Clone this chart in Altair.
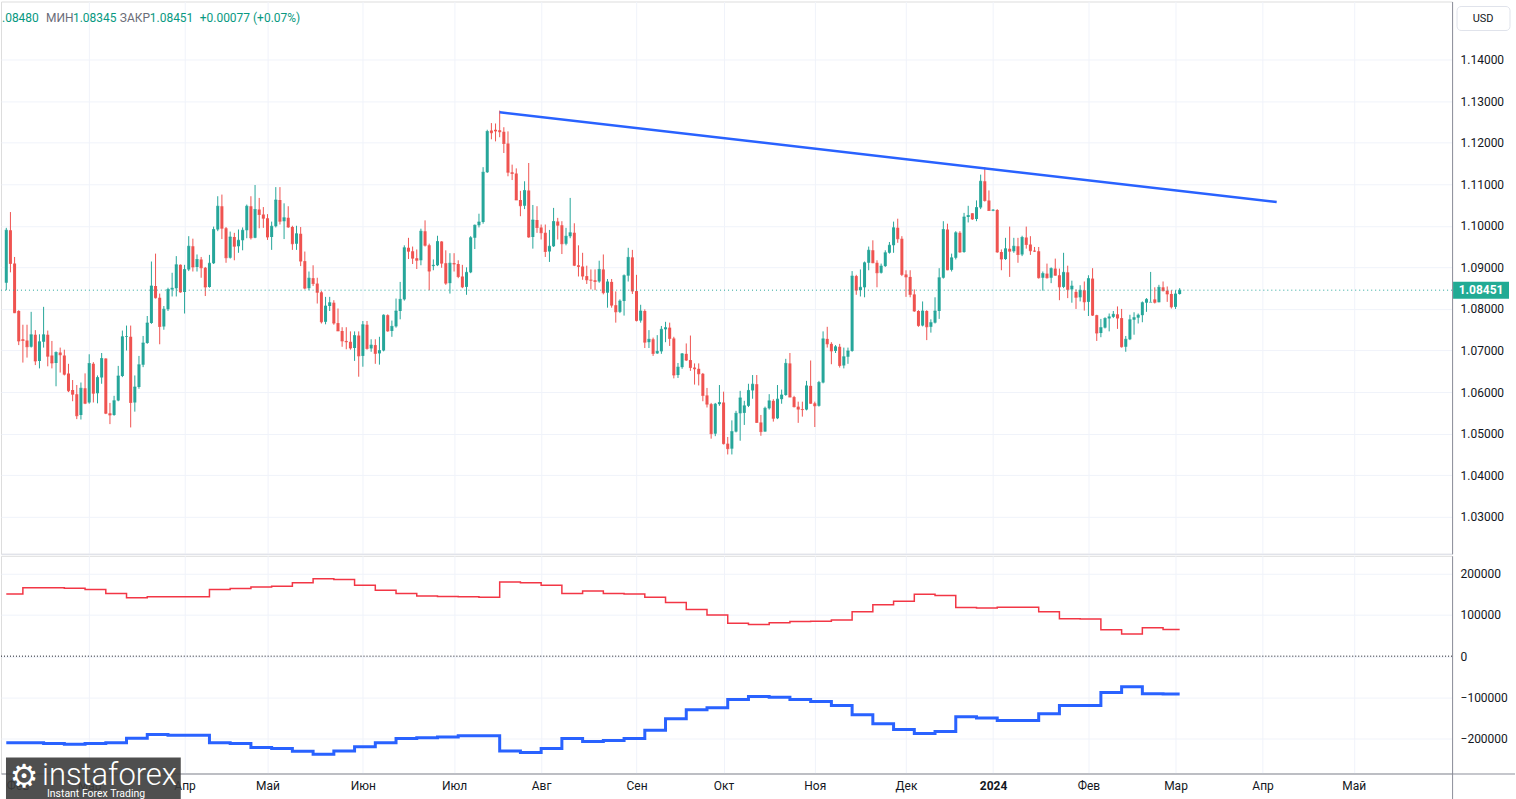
import altair as alt
import pandas as pd

# ---------------- data (EUR/USD daily) ----------------
opens = [1.0863,1.0989,1.0909,1.0795,1.0727,1.0724,1.0709,1.0738,1.0675,1.0721,
1.0738,1.0688,1.0670,1.0695,1.0688,1.0645,1.0605,1.0595,1.0545,1.0609,
1.0575,1.0668,1.0597,1.0635,1.0681,1.0549,1.0545,1.0580,1.0639,1.0733,
1.0733,1.0575,1.0612,1.0666,1.0718,1.0766,1.0855,1.0827,1.0758,1.0799,
1.0847,1.0850,1.0906,1.0841,1.0895,1.0951,1.0901,1.0919,1.0899,1.0853,
1.0910,1.0991,1.1047,1.0994,1.0923,1.0973,1.0951,1.0965,1.0989,1.1047,
1.0971,1.1039,1.1027,1.1018,1.0973,1.0999,1.1062,1.1011,1.1019,1.0997,
1.0957,1.0981,1.0915,1.0850,1.0874,1.0861,1.0840,1.0769,1.0807,1.0815,
1.0766,1.0747,1.0723,1.0721,1.0706,1.0736,1.0687,1.0762,1.0705,1.0713,
1.0693,1.0700,1.0785,1.0747,1.0758,1.0795,1.0823,1.0947,1.0939,1.0922,
1.0917,1.0987,1.0953,1.0903,1.0905,1.0962,1.0910,1.0862,1.0910,1.0908,
1.0878,1.0853,1.0888,1.0971,1.1001,1.1009,1.1129,1.1229,1.1231,1.1230,
1.1226,1.1198,1.1129,1.1126,1.1062,1.1048,1.1085,1.0973,1.1014,1.0996,
1.0983,1.0938,1.0951,1.1010,1.1001,1.0957,1.0975,1.0983,1.0905,1.0902,
1.0879,1.0870,1.0869,1.0866,1.0895,1.0839,1.0865,1.0809,1.0793,1.0819,
1.0880,1.0924,1.0843,1.0772,1.0795,1.0720,1.0727,1.0693,1.0698,1.0751,
1.0755,1.0729,1.0641,1.0660,1.0692,1.0677,1.0659,1.0656,1.0644,1.0592,
1.0571,1.0500,1.0571,1.0575,1.0476,1.0464,1.0505,1.0549,1.0550,1.0567,
1.0604,1.0619,1.0527,1.0505,1.0561,1.0579,1.0537,1.0583,1.0593,1.0669,
1.0588,1.0565,1.0559,1.0558,1.0615,1.0573,1.0567,1.0623,1.0728,1.0716,
1.0699,1.0709,1.0664,1.0685,1.0699,1.0879,1.0845,1.0852,1.0911,1.0941,
1.0911,1.0887,1.0903,1.0935,1.0953,1.0995,1.0969,1.0883,1.0877,1.0835,
1.0795,1.0760,1.0795,1.0757,1.0767,1.0795,1.0875,1.0991,1.0894,1.0923,
1.0983,1.0937,1.1021,1.1030,1.1016,1.1044,1.1107,1.1061,1.1037,1.1038,
1.0937,1.0920,1.0945,1.0939,1.0951,1.0931,1.0972,1.0955,1.0940,1.0939,
1.0875,1.0885,1.0875,1.0897,1.0881,1.0853,1.0888,1.0847,1.0841,1.0828,
1.0845,1.0817,1.0873,1.0785,1.0742,1.0755,1.0777,1.0781,1.0787,1.0778,
1.0709,1.0727,1.0774,1.0779,1.0785,1.0815,1.0816,1.0823,1.0816,1.0852,
1.0844,1.0836,1.0805,1.0836]
highs = [1.0995,1.1033,1.0925,1.0797,1.0762,1.0762,1.0793,1.0749,1.0739,1.0805,
1.0748,1.0723,1.0698,1.0707,1.0702,1.0668,1.0629,1.0617,1.0623,1.0645,
1.0691,1.0672,1.0640,1.0694,1.0681,1.0574,1.0591,1.0663,1.0748,1.0760,
1.0760,1.0640,1.0687,1.0735,1.0783,1.0914,1.0933,1.0837,1.0807,1.0851,
1.0887,1.0927,1.0907,1.0906,1.0975,1.0969,1.0931,1.0925,1.0901,1.0930,
1.0998,1.1071,1.1075,1.0997,1.0986,1.0983,1.0991,1.0996,1.1051,1.1071,
1.1098,1.1067,1.1045,1.1028,1.1010,1.1093,1.1093,1.1054,1.1047,1.1000,
1.1000,1.0997,1.0938,1.0890,1.0905,1.0875,1.0843,1.0829,1.0829,1.0821,
1.0801,1.0756,1.0756,1.0746,1.0746,1.0746,1.0771,1.0771,1.0727,1.0727,
1.0733,1.0787,1.0787,1.0772,1.0825,1.0865,1.0953,1.0971,1.0950,1.0943,
1.0993,1.1013,1.0957,1.0919,1.0976,1.0963,1.0941,1.0934,1.0934,1.0917,
1.0906,1.0900,1.0975,1.1003,1.1029,1.1141,1.1231,1.1247,1.1246,1.1277,
1.1237,1.1227,1.1147,1.1138,1.1084,1.1107,1.1151,1.1050,1.1047,1.1003,
1.1003,1.0990,1.1043,1.1019,1.1011,1.0995,1.1067,1.1006,1.0953,1.0935,
1.0904,1.0895,1.0895,1.0916,1.0931,1.0872,1.0872,1.0842,1.0823,1.0883,
1.0947,1.0942,1.0882,1.0810,1.0799,1.0749,1.0731,1.0737,1.0759,1.0769,
1.0767,1.0733,1.0670,1.0694,1.0717,1.0736,1.0669,1.0669,1.0646,1.0610,
1.0574,1.0574,1.0617,1.0601,1.0492,1.0532,1.0555,1.0603,1.0579,1.0620,
1.0641,1.0641,1.0545,1.0565,1.0595,1.0583,1.0617,1.0606,1.0680,1.0694,
1.0591,1.0577,1.0577,1.0627,1.0676,1.0577,1.0627,1.0746,1.0757,1.0720,
1.0713,1.0716,1.0707,1.0707,1.0891,1.0882,1.0895,1.0914,1.0950,1.0965,
1.0917,1.0909,1.0941,1.0961,1.1010,1.1017,1.0975,1.0893,1.0893,1.0847,
1.0797,1.0818,1.0797,1.0775,1.0828,1.0898,1.1011,1.1005,1.0933,1.0987,
1.0987,1.1031,1.1048,1.1030,1.1061,1.1123,1.1141,1.1085,1.1040,1.1040,
1.0943,1.0971,1.0998,1.0971,1.0971,1.0976,1.0998,1.0975,1.0949,1.0949,
1.0890,1.0909,1.0900,1.0921,1.0897,1.0935,1.0904,1.0868,1.0847,1.0857,
1.0866,1.0881,1.0898,1.0786,1.0776,1.0780,1.0789,1.0795,1.0806,1.0800,
1.0735,1.0786,1.0792,1.0789,1.0818,1.0826,1.0889,1.0852,1.0858,1.0866,
1.0854,1.0845,1.0845,1.0850]
lows = [1.0845,1.0888,1.0790,1.0713,1.0671,1.0683,1.0707,1.0665,1.0657,1.0707,
1.0662,1.0657,1.0614,1.0647,1.0640,1.0600,1.0578,1.0535,1.0534,1.0571,
1.0572,1.0575,1.0573,1.0620,1.0547,1.0523,1.0543,1.0578,1.0636,1.0700,
1.0515,1.0553,1.0608,1.0660,1.0716,1.0764,1.0825,1.0715,1.0750,1.0795,
1.0830,1.0830,1.0839,1.0789,1.0891,1.0890,1.0890,1.0875,1.0831,1.0851,
1.0908,1.0987,1.0968,1.0911,1.0921,1.0917,1.0935,1.0941,1.0970,1.0967,
1.0970,1.0994,1.0995,1.0966,1.0942,1.0996,1.1003,1.0968,1.0995,1.0942,
1.0942,1.0903,1.0847,1.0845,1.0855,1.0813,1.0765,1.0763,1.0795,1.0762,
1.0747,1.0709,1.0703,1.0702,1.0675,1.0637,1.0661,1.0702,1.0697,1.0668,
1.0666,1.0698,1.0745,1.0733,1.0755,1.0775,1.0820,1.0920,1.0908,1.0896,
1.0905,1.0950,1.0845,1.0893,1.0903,1.0899,1.0858,1.0837,1.0890,1.0874,
1.0850,1.0834,1.0886,1.0944,1.0996,1.1005,1.1127,1.1208,1.1203,1.1213,
1.1175,1.1119,1.1110,1.1062,1.1023,1.1040,1.0971,1.0945,1.0983,1.0967,
1.0925,1.0913,1.0949,1.0967,1.0932,1.0953,1.0970,1.0903,1.0878,1.0870,
1.0860,1.0847,1.0845,1.0863,1.0835,1.0803,1.0803,1.0767,1.0790,1.0784,
1.0866,1.0836,1.0770,1.0767,1.0706,1.0706,1.0687,1.0692,1.0692,1.0720,
1.0711,1.0633,1.0634,1.0656,1.0675,1.0651,1.0618,1.0616,1.0578,1.0563,
1.0488,1.0494,1.0567,1.0474,1.0450,1.0450,1.0503,1.0483,1.0521,1.0564,
1.0584,1.0526,1.0495,1.0505,1.0558,1.0529,1.0535,1.0572,1.0591,1.0588,
1.0563,1.0526,1.0541,1.0556,1.0572,1.0516,1.0565,1.0621,1.0707,1.0667,
1.0694,1.0659,1.0657,1.0668,1.0697,1.0834,1.0830,1.0828,1.0893,1.0910,
1.0852,1.0885,1.0901,1.0933,1.0935,1.0959,1.0879,1.0829,1.0828,1.0793,
1.0757,1.0758,1.0725,1.0743,1.0765,1.0776,1.0873,1.0893,1.0890,1.0919,
1.0935,1.0935,1.1008,1.1014,1.1011,1.1040,1.1058,1.1036,1.1035,1.0935,
1.0893,1.0918,1.0877,1.0935,1.0911,1.0927,1.0945,1.0930,1.0937,1.0873,
1.0844,1.0873,1.0862,1.0880,1.0821,1.0850,1.0826,1.0815,1.0800,1.0818,
1.0796,1.0783,1.0783,1.0723,1.0732,1.0753,1.0746,1.0778,1.0752,1.0707,
1.0697,1.0725,1.0738,1.0765,1.0768,1.0793,1.0817,1.0813,1.0816,1.0842,
1.0817,1.0801,1.0800,1.08345]
closes = [1.0989,1.0909,1.0791,1.0723,1.0724,1.0709,1.0738,1.0675,1.0721,1.0738,
1.0686,1.0670,1.0695,1.0690,1.0643,1.0603,1.0595,1.0543,1.0609,1.0573,
1.0669,1.0597,1.0635,1.0681,1.0549,1.0545,1.0579,1.0639,1.0733,1.0734,
1.0575,1.0612,1.0666,1.0718,1.0766,1.0855,1.0827,1.0758,1.0799,1.0847,
1.0850,1.0906,1.0841,1.0895,1.0951,1.0901,1.0919,1.0899,1.0853,1.0910,
1.0991,1.1047,1.0994,1.0923,1.0973,1.0951,1.0965,1.0989,1.1047,1.0971,
1.1039,1.1027,1.1018,1.0973,1.0999,1.1062,1.1011,1.1019,1.0997,1.0957,
1.0981,1.0915,1.0850,1.0874,1.0861,1.0840,1.0769,1.0807,1.0815,1.0766,
1.0747,1.0723,1.0721,1.0706,1.0736,1.0687,1.0762,1.0705,1.0713,1.0693,
1.0700,1.0785,1.0747,1.0758,1.0795,1.0823,1.0947,1.0939,1.0922,1.0917,
1.0987,1.0953,1.0891,1.0905,1.0962,1.0910,1.0862,1.0910,1.0908,1.0878,
1.0853,1.0888,1.0971,1.1001,1.1009,1.1129,1.1227,1.1224,1.1228,1.1226,
1.1198,1.1129,1.1126,1.1062,1.1048,1.1085,1.0973,1.1014,1.0996,1.0983,
1.0938,1.0951,1.1010,1.1001,1.0957,1.0975,1.0983,1.0905,1.0902,1.0879,
1.0870,1.0869,1.0866,1.0895,1.0839,1.0865,1.0809,1.0793,1.0819,1.0880,
1.0924,1.0843,1.0772,1.0795,1.0720,1.0727,1.0693,1.0698,1.0751,1.0755,
1.0729,1.0641,1.0660,1.0692,1.0677,1.0659,1.0656,1.0644,1.0592,1.0571,
1.0500,1.0571,1.0575,1.0476,1.0464,1.0505,1.0549,1.0586,1.0567,1.0604,
1.0619,1.0527,1.0505,1.0561,1.0579,1.0537,1.0583,1.0593,1.0669,1.0588,
1.0565,1.0559,1.0558,1.0615,1.0573,1.0567,1.0623,1.0728,1.0716,1.0699,
1.0709,1.0664,1.0685,1.0699,1.0879,1.0845,1.0852,1.0911,1.0941,1.0911,
1.0887,1.0903,1.0935,1.0953,1.0995,1.0969,1.0883,1.0877,1.0835,1.0795,
1.0760,1.0795,1.0757,1.0767,1.0795,1.0875,1.0991,1.0894,1.0923,1.0983,
1.0937,1.1021,1.1025,1.1016,1.1044,1.1107,1.1061,1.1037,1.1038,1.0937,
1.0920,1.0945,1.0939,1.0951,1.0931,1.0972,1.0955,1.0940,1.0939,1.0875,
1.0885,1.0875,1.0897,1.0881,1.0853,1.0888,1.0847,1.0855,1.0828,1.0845,
1.0817,1.0873,1.0785,1.0742,1.0755,1.0777,1.0781,1.0787,1.0778,1.0709,
1.0727,1.0774,1.0779,1.0785,1.0815,1.0823,1.0816,1.0816,1.0852,1.0844,
1.0836,1.0805,1.0836,1.08451]

month_idx = [0, 20, 43, 63, 86, 108, 129, 152, 173, 195, 217, 238, 261, 282, 303, 325]
month_lbl = ["Фев", "Мар", "Апр", "Май", "Июн", "Июл", "Авг", "Сен", "Окт",
             "Ноя", "Дек", "2024", "Фев", "Мар", "Апр", "Май"]
price_ticks = [1.03, 1.04, 1.05, 1.06, 1.07, 1.08, 1.09, 1.10, 1.11, 1.12, 1.13, 1.14]
cot_ticks = [-200000, -100000, 0, 100000, 200000]

# weekly COT net positions (one value per report week)
red_net = [151000,166000,166000,165000,162000,152000,142000,144000,144000,144000,
162000,164000,168000,170000,178000,188000,186000,172000,160000,152000,
146000,145000,144000,143000,180000,178000,172000,152000,158000,152000,
151000,143000,130000,113000,100000,80000,77000,81000,84000,85000,
88000,108000,125000,133000,150000,147000,118000,117000,119000,119000,
108000,91000,90000,64000,54000,69000,65000]
blue_net = [-210000,-210000,-212000,-214000,-212000,-210000,-199000,-190000,-192000,-192000,
-210000,-212000,-222000,-224000,-231000,-238000,-230000,-220000,-210000,-200000,
-198000,-196000,-193000,-193000,-230000,-234000,-224000,-200000,-207000,-205000,
-200000,-180000,-152000,-130000,-125000,-105000,-98000,-100000,-105000,-110000,
-120000,-142000,-164000,-178000,-188000,-183000,-147000,-150000,-156000,-156000,
-140000,-120000,-120000,-88000,-74000,-91000,-92000]

trend_i = [119, 306.4]
trend_p = [1.1273, 1.1057]
last_close = 1.08451
header_parts = [(".08480", "#089981"), ("МИН", "#6a6d78"), ("1.08345", "#089981"),
                ("ЗАКР", "#6a6d78"), ("1.08451", "#089981"), ("+0.00077 (+0.07%)", "#089981")]
header_x = [1, 45, 72, 119, 149, 199]

# ---------------- styling ----------------
UP, DN = "#26a69a", "#ef5350"
GRID = "#f0f3fa"
TXT = "#131722"
AXL = "#8c8f9a"
FONT = "Roboto"

n = len(closes)
df = pd.DataFrame({"i": list(range(n)), "o": opens, "h": highs, "l": lows, "c": closes})
df["dir"] = ["up" if c >= o else "down" for o, c in zip(opens, closes)]

xs = alt.Scale(domain=[-0.072, 347.5], nice=False, zero=False)
ys = alt.Scale(domain=[1.02111, 1.15393], nice=False, zero=False)
cs = alt.Scale(domain=["up", "down"], range=[UP, DN])

edge_grid = {"condition": {"test": "datum.value == 0", "value": 0}, "value": 1}

top_xaxis = alt.Axis(values=month_idx, labels=False, ticks=False, grid=True, gridColor=GRID,
                     gridOpacity=edge_grid, domain=True, domainColor="#e0e3eb", title=None,
                     minExtent=0, maxExtent=0)
top_yaxis = alt.Axis(orient="right", values=price_ticks, format=".5f", grid=True, gridColor=GRID,
                     ticks=False, domainColor=AXL, labelColor=TXT, labelFontSize=12,
                     labelPadding=8, labelFont=FONT, title=None, minExtent=63, maxExtent=63)

X = alt.X("i:Q", scale=xs, axis=top_xaxis)

base = alt.Chart(df)
wicks = base.mark_rule(strokeWidth=1, clip=True).encode(
    x=X, y=alt.Y("l:Q", scale=ys, axis=top_yaxis), y2="h:Q",
    color=alt.Color("dir:N", scale=cs, legend=None))
bodies = base.mark_bar(width=3, clip=True).encode(
    x=X, y=alt.Y("o:Q", scale=ys, axis=top_yaxis), y2="c:Q",
    color=alt.Color("dir:N", scale=cs, legend=None))
dojis = base.mark_tick(orient="horizontal", size=3, thickness=1, clip=True).encode(
    x=X, y=alt.Y("c:Q", scale=ys, axis=top_yaxis),
    color=alt.Color("dir:N", scale=cs, legend=None))

one = pd.DataFrame({"k": [0]})
last_rule = alt.Chart(one).mark_rule(color=UP, strokeDash=[1, 3], strokeWidth=1, clip=True).encode(
    y=alt.Y(datum=last_close, scale=ys, axis=top_yaxis))

trend_df = pd.DataFrame({"i": trend_i, "p": trend_p})
trend = alt.Chart(trend_df).mark_line(color="#2962ff", strokeWidth=2.5).encode(
    x=X, y=alt.Y("p:Q", scale=ys, axis=top_yaxis))

price_tag = alt.Chart(one).mark_tick(orient="horizontal", size=56, thickness=17, color="#22ab94",
                                     opacity=1, clip=False).encode(
    x=alt.value(1482), y=alt.Y(datum=last_close, scale=ys, axis=top_yaxis))
price_txt = alt.Chart(one).mark_text(color="white", fontWeight="bold", fontSize=12, font=FONT,
                                     align="center", baseline="middle", clip=False).encode(
    x=alt.value(1482), y=alt.Y(datum=last_close, scale=ys, axis=top_yaxis),
    text=alt.value(f"{last_close:.5f}"))

usd_box = alt.Chart(one).mark_rect(fill="white", stroke="#e0e3eb", strokeWidth=1, cornerRadius=4,
                                   clip=False).encode(
    x=alt.value(1458), x2=alt.value(1511), y=alt.value(5), y2=alt.value(29))
usd_txt = alt.Chart(one).mark_text(color=TXT, fontSize=11, font=FONT, align="center",
                                   baseline="middle", clip=False).encode(
    x=alt.value(1484), y=alt.value(17.5), text=alt.value("USD"))

hdr_df = pd.DataFrame({"t": [p[0] for p in header_parts], "col": [p[1] for p in header_parts],
                       "px": header_x})
header = alt.Chart(hdr_df).mark_text(fontSize=12, font=FONT, align="left", baseline="middle").encode(
    x=alt.X("px:Q", scale=None), y=alt.value(16), text="t:N",
    color=alt.Color("col:N", scale=None))

top = alt.layer(wicks, bodies, dojis, last_rule, trend, price_tag, price_txt,
                usd_box, usd_txt, header).properties(width=1453, height=553)

# ---------------- lower pane (COT) ----------------
seg_i = [0] + [5 * k - 1 for k in range(1, len(red_net))] + [283]
red_df = pd.DataFrame({"i": seg_i, "v": red_net + [red_net[-1]]})
blue_df = pd.DataFrame({"i": seg_i, "v": blue_net + [blue_net[-1]]})

cot_ys = alt.Scale(domain=[-284848, 243636], nice=False, zero=False)
label_expr = ("[" + ",".join(f"'{m}'" for m in month_lbl) + "][indexof(["
              + ",".join(str(v) for v in month_idx) + "], datum.value)]")
bot_xaxis = alt.Axis(values=month_idx, labelExpr=label_expr, grid=True, gridColor=GRID,
                     gridOpacity=edge_grid, ticks=False,
                     domainColor=AXL, labelColor=TXT, labelFontSize=12, labelFont=FONT,
                     labelPadding=7, labelOverlap=False, title=None,
                     labelAlign={"condition": {"test": "datum.value == 0", "value": "left"},
                                 "value": "center"},
                     labelFontWeight={"condition": {"test": "datum.value == 238", "value": "bold"},
                                      "value": "normal"},
                     minExtent=28, maxExtent=28)
bot_yaxis = alt.Axis(orient="right", values=cot_ticks, format="d", grid=True, gridColor=GRID,
                     ticks=False, domainColor=AXL, labelColor=TXT, labelFontSize=12,
                     labelPadding=8, labelFont=FONT, title=None, minExtent=63, maxExtent=63)
XB = alt.X("i:Q", scale=xs, axis=bot_xaxis)

red_line = alt.Chart(red_df).mark_line(interpolate="step-after", color="#f23645",
                                       strokeWidth=1.5, clip=True).encode(
    x=XB, y=alt.Y("v:Q", scale=cot_ys, axis=bot_yaxis))
blue_line = alt.Chart(blue_df).mark_line(interpolate="step-after", color="#2962ff",
                                         strokeWidth=3, clip=True).encode(
    x=XB, y=alt.Y("v:Q", scale=cot_ys, axis=bot_yaxis))
zero_rule = alt.Chart(one).mark_rule(color="#131722", strokeDash=[1, 2], strokeWidth=1,
                                     clip=True).encode(
    y=alt.Y(datum=0, scale=cot_ys, axis=bot_yaxis))

# frame continuation into the corner under the price scale
corner_v = alt.Chart(one).mark_rule(color=AXL, strokeWidth=1, clip=False).encode(
    x=alt.value(1453.5), y=alt.value(218), y2=alt.value(246))
corner_h = alt.Chart(one).mark_rule(color=AXL, strokeWidth=1, clip=False).encode(
    x=alt.value(1453), x2=alt.value(1516), y=alt.value(218.5))

logo_bg = alt.Chart(one).mark_rect(fill="#3c3c3c", opacity=0.9, clip=False).encode(
    x=alt.value(5), x2=alt.value(180), y=alt.value(202), y2=alt.value(246))
logo_icon = alt.Chart(one).mark_text(color="white", fontSize=32, font="DejaVu Sans",
                                     align="center", baseline="middle", clip=False).encode(
    x=alt.value(23), y=alt.value(222), text=alt.value("⚙"))
logo_big = alt.Chart(one).mark_text(color="white", fontSize=31, fontWeight=300, font=FONT,
                                    align="left", baseline="alphabetic", clip=False).encode(
    x=alt.value(41), y=alt.value(230), text=alt.value("instaforex"))
logo_small = alt.Chart(one).mark_text(color="white", fontSize=10.5, font=FONT, align="left",
                                      baseline="alphabetic", clip=False).encode(
    x=alt.value(46), y=alt.value(242), text=alt.value("Instant Forex Trading"))

bottom = alt.layer(zero_rule, red_line, blue_line, corner_v, corner_h, logo_bg, logo_icon,
                   logo_big, logo_small).properties(width=1453, height=218)

chart = alt.vconcat(top, bottom, spacing=0).resolve_scale(x="shared").properties(
    padding=0, background="white"
).configure_view(stroke=None).configure(font=FONT)

chart.save("out.html", embed_options={"renderer": "svg", "actions": False})
